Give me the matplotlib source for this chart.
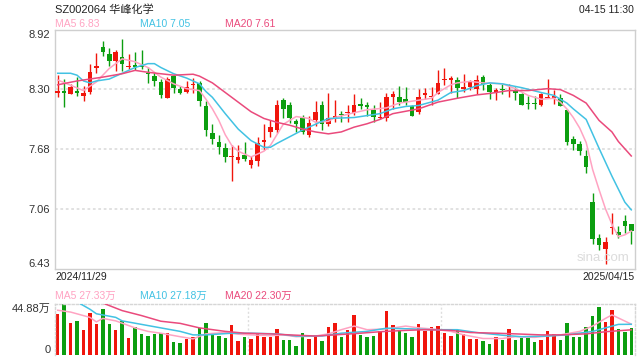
import numpy as np
import matplotlib
matplotlib.use("Agg")
import matplotlib.pyplot as plt

plt.rcParams['font.family'] = ['Liberation Sans', 'Noto Sans CJK SC', 'DejaVu Sans']

# daily candles, 2024/11/29 .. 2025/04/15 (90 sessions)
opens = [8.27, 8.28, 8.25, 8.29, 8.23, 8.28, 8.52, 8.74, 8.67, 8.60,
         8.64, 8.53, 8.545, 8.55, 8.47, 8.44, 8.38, 8.21, 8.44, 8.31,
         8.28, 8.345, 8.37, 8.13, 7.85, 7.76, 7.69, 7.60, 7.57, 7.62,
         7.52, 7.56, 7.76, 7.855, 7.875, 8.19, 8.145, 7.97, 8.00, 7.83,
         7.98, 8.145, 7.945, 8.01, 8.045, 8.055, 8.06, 8.155, 8.135, 8.085,
         8.00, 8.00, 8.22, 8.225, 8.20, 8.125, 8.07, 8.24, 8.225, 8.25,
         8.40, 8.405, 8.405, 8.31, 8.33, 8.31, 8.43, 8.35, 8.27, 8.31,
         8.285, 8.30, 8.25, 8.155, 8.155, 8.145, 8.215, 8.21, 8.21, 8.09,
         7.785, 7.73, 7.61, 7.13, 6.76, 6.645, 6.865, 6.815, 6.93, 6.905]
closes = [8.28, 8.27, 8.33, 8.27, 8.27, 8.48, 8.55, 8.69, 8.60, 8.69,
          8.57, 8.55, 8.54, 8.53, 8.46, 8.39, 8.24, 8.41, 8.32, 8.27,
          8.33, 8.35, 8.18, 7.88, 7.79, 7.70, 7.60, 7.605, 7.60, 7.58,
          7.57, 7.75, 7.78, 7.91, 8.145, 8.095, 8.00, 7.945, 7.86, 7.95,
          8.065, 7.945, 8.00, 8.02, 8.035, 8.06, 8.135, 8.13, 8.115, 8.015,
          8.02, 8.22, 8.25, 8.175, 8.175, 8.03, 8.225, 8.27, 8.23, 8.37,
          8.41, 8.41, 8.315, 8.33, 8.38, 8.405, 8.36, 8.28, 8.30, 8.30,
          8.29, 8.27, 8.145, 8.15, 8.15, 8.25, 8.22, 8.235, 8.125, 7.76,
          7.735, 7.66, 7.495, 6.745, 6.68, 6.72, 6.87, 6.79, 6.88, 6.83]
highs = [8.45, 8.41, 8.36, 8.43, 8.34, 8.57, 8.68, 8.81, 8.73, 8.71,
         8.83, 8.67, 8.69, 8.71, 8.54, 8.48, 8.41, 8.43, 8.45, 8.34,
         8.39, 8.42, 8.39, 8.18, 7.94, 7.83, 7.74, 7.72, 7.72, 7.76,
         7.61, 7.81, 7.945, 7.98, 8.19, 8.215, 8.17, 7.99, 8.04, 8.03,
         8.18, 8.18, 8.27, 8.195, 8.08, 8.14, 8.25, 8.21, 8.17, 8.135,
         8.175, 8.26, 8.29, 8.34, 8.33, 8.14, 8.31, 8.32, 8.325, 8.50,
         8.52, 8.44, 8.43, 8.465, 8.405, 8.455, 8.45, 8.37, 8.32, 8.36,
         8.355, 8.33, 8.27, 8.23, 8.23, 8.26, 8.41, 8.30, 8.25, 8.10,
         7.82, 7.77, 7.67, 7.22, 6.80, 6.77, 7.015, 6.88, 6.995, 6.905]
lows = [8.22, 8.12, 8.25, 8.23, 8.18, 8.25, 8.47, 8.65, 8.55, 8.49,
        8.49, 8.51, 8.50, 8.51, 8.37, 8.34, 8.21, 8.21, 8.26, 8.25,
        8.26, 8.27, 8.13, 7.82, 7.73, 7.63, 7.55, 7.35, 7.535, 7.56,
        7.48, 7.51, 7.67, 7.81, 7.85, 8.01, 7.95, 7.86, 7.84, 7.81,
        7.92, 7.88, 7.92, 7.96, 7.96, 7.96, 8.04, 8.095, 8.025, 7.96,
        7.99, 7.97, 8.10, 8.135, 8.135, 8.025, 8.045, 8.20, 8.14, 8.25,
        8.35, 8.27, 8.215, 8.28, 8.295, 8.25, 8.30, 8.205, 8.19, 8.25,
        8.22, 8.195, 8.145, 8.10, 8.10, 8.125, 8.21, 8.15, 8.125, 7.72,
        7.675, 7.625, 7.43, 6.70, 6.63, 6.49, 6.80, 6.76, 6.81, 6.69]
# volume, 万手
volumes = [36.5, 44.88, 28.0, 29.9, 22.4, 37.4, 27.1, 41.1, 27.1, 22.4,
           30.2, 15.3, 24.6, 18.7, 16.8, 18.7, 19.3, 19.3, 11.5, 10.6,
           14.3, 15.6, 24.3, 28.0, 19.9, 16.8, 15.0, 26.2, 12.2, 15.9,
           14.3, 19.3, 15.6, 15.6, 23.4, 13.7, 13.1, 8.4, 19.9, 14.6,
           17.8, 12.5, 24.9, 28.0, 16.2, 22.4, 35.5, 18.1, 16.2, 16.8,
           20.9, 38.6, 26.2, 22.4, 19.9, 16.2, 27.1, 20.9, 24.9, 25.5,
           19.9, 16.8, 22.4, 18.7, 14.3, 14.3, 12.5, 10.0, 15.6, 13.7,
           23.1, 13.1, 15.0, 15.0, 11.5, 13.7, 21.2, 18.7, 13.1, 28.0,
           15.6, 15.6, 24.9, 34.3, 42.7, 29.3, 40.2, 23.1, 20.6, 24.0]

# moving averages (session index, value)
ma5_idx = [0, 4, 6, 8, 10, 12, 14, 16, 18, 20, 22, 23, 24, 25, 26, 27, 28, 30, 32, 33,
           34, 35, 37, 39, 40, 42, 43, 46, 48, 51, 53, 55, 58, 59, 61, 62, 64, 66, 69, 71,
           73, 75, 77, 78, 79, 80, 81, 82, 83, 84, 85, 86, 87, 88, 89]
ma5_val = [8.40, 8.29, 8.38, 8.52, 8.62, 8.59, 8.53, 8.43, 8.36, 8.31, 8.29, 8.20, 8.10, 7.98,
           7.83, 7.72, 7.66, 7.60, 7.66, 7.72, 7.83, 7.94, 8.02, 8.00, 7.96, 7.97, 8.01, 8.06,
           8.09, 8.11, 8.16, 8.18, 8.21, 8.27, 8.35, 8.37, 8.385, 8.37, 8.36, 8.31, 8.24, 8.20,
           8.21, 8.17, 8.10, 8.01, 7.90, 7.75, 7.47, 7.26, 7.06, 6.90, 6.77, 6.79, 6.83]
ma10_idx = [0, 2, 3, 4, 5, 6, 8, 10, 12, 14, 15, 16, 18, 20, 22, 23, 24, 26, 28, 30,
            32, 33, 34, 36, 38, 39, 41, 42, 46, 48, 50, 52, 54, 56, 59, 61, 63, 65, 67, 69,
            72, 75, 77, 79, 80, 82, 84, 86, 88, 89]
ma10_val = [8.47, 8.47, 8.45, 8.39, 8.37, 8.39, 8.41, 8.47, 8.53, 8.57, 8.57, 8.53, 8.465,
            8.42, 8.36, 8.28, 8.22, 8.05, 7.89, 7.77, 7.70, 7.70, 7.74, 7.81, 7.88, 7.91,
            7.97, 8.00, 8.01, 8.03, 8.05, 8.10, 8.125, 8.135, 8.19, 8.27, 8.29, 8.34, 8.37,
            8.36, 8.32, 8.27, 8.24, 8.16, 8.10, 7.99, 7.69, 7.40, 7.13, 7.05]
ma20_idx = [0, 3, 7, 10, 12, 14, 16, 18, 21, 22, 24, 26, 28, 30, 32, 34, 36, 38, 40, 42,
            44, 46, 48, 50, 52, 54, 56, 59, 62, 65, 67, 70, 73, 76, 78, 80, 82, 84, 86, 87, 89]
ma20_val = [8.35, 8.39, 8.43, 8.465, 8.50, 8.48, 8.465, 8.45, 8.46, 8.44, 8.37, 8.27, 8.17,
            8.07, 8.00, 7.96, 7.93, 7.89, 7.86, 7.84, 7.86, 7.91, 7.945, 7.99, 8.05, 8.075,
            8.10, 8.17, 8.21, 8.245, 8.26, 8.29, 8.29, 8.31, 8.30, 8.24, 8.16, 7.98, 7.86,
            7.76, 7.61]

vma5_idx = [0, 2, 5, 6, 7, 9, 12, 14, 16, 19, 21, 23, 26, 28, 30, 33, 35, 37, 40, 42,
            44, 46, 48, 51, 54, 56, 58, 61, 63, 66, 69, 71, 74, 76, 78, 81, 83, 85, 86, 89]
vma5_val = [39.6, 38.0, 33.3, 29.3, 32.4, 30.2, 24.0, 20.9, 19.3, 16.2, 14.3, 18.7, 19.9,
            18.4, 17.8, 17.1, 17.8, 16.2, 16.8, 18.7, 22.4, 25.6, 22.4, 23.1, 25.6, 24.0,
            23.1, 20.9, 17.8, 14.6, 14.6, 16.2, 15.6, 16.8, 17.8, 20.9, 25.6, 32.4, 35.5, 27.33]
vma10_idx = [0, 3, 5, 6, 9, 10, 13, 16, 19, 21, 23, 27, 30, 34, 37, 41, 44, 48, 51, 55,
             58, 62, 65, 69, 72, 76, 79, 83, 85, 87, 89]
vma10_val = [47.0, 47.0, 40.5, 36.5, 33.3, 30.2, 27.1, 24.0, 20.9, 17.8, 17.8, 19.3, 19.3,
             18.7, 16.8, 16.8, 19.3, 20.9, 23.7, 23.1, 22.4, 22.4, 19.9, 17.5, 16.2, 16.8,
             17.8, 20.9, 24.0, 27.1, 27.18]
vma20_idx = [0, 7, 10, 13, 16, 19, 22, 26, 29, 33, 36, 40, 43, 47, 50, 54, 57, 61, 64, 68,
             71, 75, 78, 82, 85, 89]
vma20_val = [50.0, 46.0, 39.3, 34.9, 29.9, 28.0, 24.0, 20.9, 19.3, 18.7, 17.8, 16.8, 17.8,
             19.3, 20.6, 21.8, 22.4, 21.8, 19.9, 19.3, 18.7, 17.8, 17.8, 18.7, 20.6, 22.30]

price_ticks = ["8.92", "8.30", "7.68", "7.06", "6.43"]

RED = "#f0150c"
GREEN = "#0c9e10"
C_MA5 = "#ffa3c2"
C_MA10 = "#42c2e3"
C_MA20 = "#ea4a7c"
GRID = "#dedede"

n = len(closes)
x = np.arange(n)
o = np.array(opens); c = np.array(closes); h = np.array(highs); l = np.array(lows)
up = c >= o
colors = np.where(up, RED, GREEN)

fig = plt.figure(figsize=(6.4, 3.6), dpi=100)
ax = fig.add_axes([54.5 / 640, 1 - 269 / 360, 580 / 640, 239.5 / 360])
axv = fig.add_axes([54.5 / 640, 5 / 360, 580 / 640, 50.7 / 360])

# price panel
ymin, ymax = 6.435, 8.925
ax.set_xlim(-0.5, n - 0.5)
ax.set_ylim(ymin, ymax)
ticks = np.linspace(ymax, ymin, 5)
for t in ticks[1:-1]:
    ax.axhline(t, color=GRID, lw=1.3, ls=(0, (1.5, 1.5)), zorder=0)

ax.vlines(x, l, h, colors=colors, lw=1.0, zorder=2)
body = np.maximum(np.abs(c - o), 0.011)
ax.bar(x, body, bottom=np.minimum(o, c), width=0.72, color=colors, lw=0, zorder=3)

ax.plot(ma5_idx, ma5_val, color=C_MA5, lw=1.1, zorder=4)
ax.plot(ma10_idx, ma10_val, color=C_MA10, lw=1.1, zorder=4)
ax.plot(ma20_idx, ma20_val, color=C_MA20, lw=1.1, zorder=4)

ax.set_yticks(ticks)
ax.set_yticklabels(price_ticks)
ax.tick_params(axis='y', length=0, pad=3, labelsize=8, labelcolor="#333333")
labs = ax.get_yticklabels()
labs[0].set_va('top')
labs[-1].set_va('bottom')
ax.set_xticks([])
for s in ax.spines.values():
    s.set_color("#cfcfcf")
    s.set_linewidth(1.0)

ax.text(0.945, 0.045, "sina.com", transform=ax.transAxes, ha='center', va='center',
        fontsize=9.5, color="#dcdcdc", zorder=5)

# volume panel
axv.set_xlim(-0.5, n - 0.5)
axv.set_ylim(0, max(volumes))
axv.bar(x, volumes, width=0.55, color=colors, lw=0, zorder=2)
axv.plot(vma5_idx, vma5_val, color=C_MA5, lw=1.1, zorder=3)
axv.plot(vma10_idx, vma10_val, color=C_MA10, lw=1.1, zorder=3)
axv.plot(vma20_idx, vma20_val, color=C_MA20, lw=1.1, zorder=3)
for fx in (1 / 3, 2 / 3):
    axv.axvline(-0.5 + n * fx, color=GRID, lw=1.0, ls=(0, (1.5, 1.5)), zorder=0)
axv.set_xticks([])
axv.set_yticks([max(volumes), 0])
axv.set_yticklabels(["44.88万", "0"])
axv.tick_params(axis='y', length=0, pad=3, labelsize=8, labelcolor="#333333")
vl = axv.get_yticklabels()
vl[0].set_va('top')
vl[1].set_va('bottom')
for s in axv.spines.values():
    s.set_color("#d6d6d6")
    s.set_linestyle((0, (1.5, 1.5)))
    s.set_linewidth(1.0)
axv.spines['bottom'].set_visible(False)

# header texts
fig.text(55 / 640, 1 - 10 / 360, "SZ002064 华峰化学", fontsize=8, color="#222222",
         ha='left', va='center')
fig.text(634 / 640, 1 - 10 / 360, "04-15 11:30", fontsize=7.5, color="#222222",
         ha='right', va='center')
fig.text(55 / 640, 1 - 24 / 360, "MA5 6.83", fontsize=7.5, color=C_MA5, va='center')
fig.text(140 / 640, 1 - 24 / 360, "MA10 7.05", fontsize=7.5, color=C_MA10, va='center')
fig.text(225 / 640, 1 - 24 / 360, "MA20 7.61", fontsize=7.5, color=C_MA20, va='center')

fig.text(55 / 640, 1 - 277 / 360, "2024/11/29", fontsize=7.5, color="#222222", va='center')
fig.text(635 / 640, 1 - 277 / 360, "2025/04/15", fontsize=7.5, color="#222222",
         ha='right', va='center')

fig.text(55 / 640, 1 - 296 / 360, "MA5 27.33万", fontsize=7.5, color=C_MA5, va='center')
fig.text(140 / 640, 1 - 296 / 360, "MA10 27.18万", fontsize=7.5, color=C_MA10, va='center')
fig.text(225 / 640, 1 - 296 / 360, "MA20 22.30万", fontsize=7.5, color=C_MA20, va='center')

fig.savefig("out.png", dpi=100)
plt.close(fig)
